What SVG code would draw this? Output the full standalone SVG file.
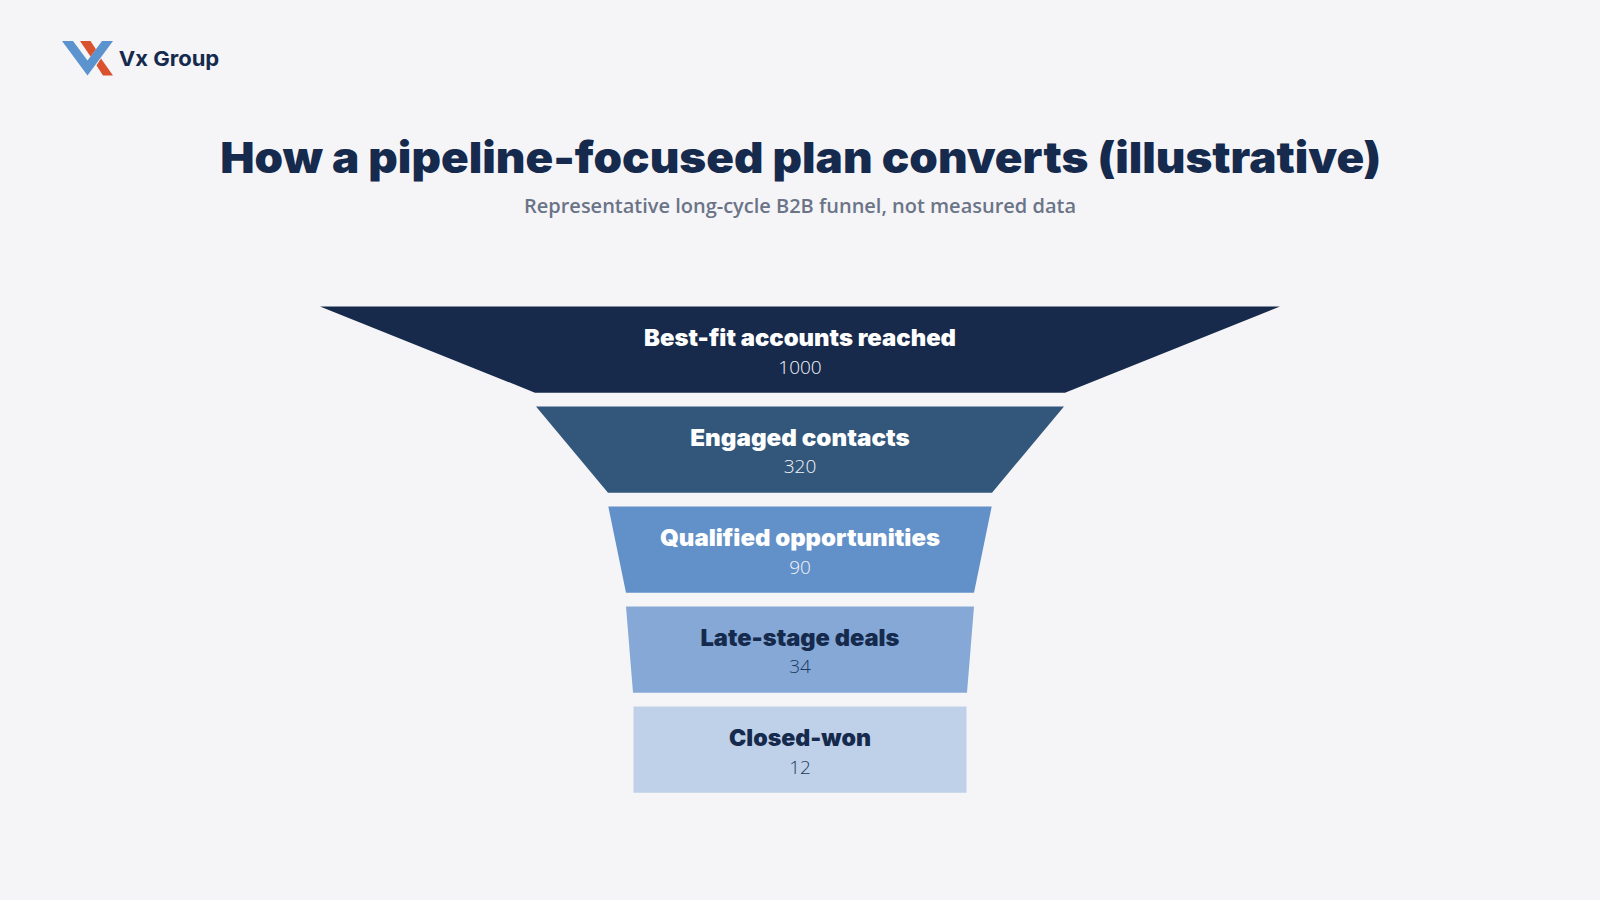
<svg xmlns="http://www.w3.org/2000/svg" width="1600" height="900" viewBox="0 0 1600 900">
<style>
.t{font-family:"Inter","Liberation Sans",sans-serif;font-weight:900;text-anchor:middle}
.l{font-size:23px}
.v{font-family:"Open Sans","Liberation Sans",sans-serif;font-size:19px;font-weight:300;text-anchor:middle}
.w{fill:#fff}.d{fill:#152a4c}
</style>
<rect width="1600" height="900" fill="#f5f5f8"/>
<g id="logo">
<polygon points="62,41 73,41 87.5,60.6 102,41 113,41 87.5,75.5" fill="#5b93cf"/>
<polygon points="80,41 90.5,41 95.9,49.2 90.5,56.5" fill="#d9512f"/>
<polygon points="101,58.5 113,75.5 103,75.5 96.5,65.5" fill="#d9512f"/>
<text x="169" y="65.5" class="t d" font-size="20.5" style="font-weight:700" textLength="100.5" lengthAdjust="spacingAndGlyphs">Vx Group</text>
</g>
<g id="header">
<text x="800.8" y="173.3" class="t d" font-size="43" textLength="1161" lengthAdjust="spacingAndGlyphs">How a pipeline-focused plan converts (illustrative)</text>
<text x="800" y="213" font-family="Open Sans,Liberation Sans,sans-serif" font-weight="600" font-size="20" text-anchor="middle" fill="#6b7487" textLength="552" lengthAdjust="spacingAndGlyphs">Representative long-cycle B2B funnel, not measured data</text>
</g>
<g id="stage1"><polygon points="320,306.5 1280,306.5 1065,392.7 535,392.7" fill="#172a4c"/>
<text x="800" y="346" class="t l w" textLength="312" lengthAdjust="spacingAndGlyphs">Best-fit accounts reached</text><text x="800" y="374" class="v" fill="#f2f5fa">1000</text></g>
<g id="stage2"><polygon points="536,406.5 1064,406.5 992,492.7 608,492.7" fill="#33567b"/>
<text x="800" y="446" class="t l w" textLength="219.5" lengthAdjust="spacingAndGlyphs">Engaged contacts</text><text x="800" y="473.2" class="v" fill="#f2f5fa">320</text></g>
<g id="stage3"><polygon points="608.3,506.5 991.7,506.5 974,592.7 626,592.7" fill="#6290c8"/>
<text x="800" y="545.7" class="t l w" textLength="280" lengthAdjust="spacingAndGlyphs">Qualified opportunities</text><text x="800" y="573.5" class="v" fill="#f2f5fa">90</text></g>
<g id="stage4"><polygon points="626,606.5 974,606.5 967,692.7 633,692.7" fill="#85a8d6"/>
<text x="800" y="645.7" class="t l d" textLength="199" lengthAdjust="spacingAndGlyphs">Late-stage deals</text><text x="800" y="673" class="v" fill="#1b3a60">34</text></g>
<g id="stage5"><polygon points="633.5,706.5 966.5,706.5 966.5,792.7 633.5,792.7" fill="#bfd1e8"/>
<text x="800" y="745.7" class="t l d" textLength="142" lengthAdjust="spacingAndGlyphs">Closed-won</text><text x="800" y="773.7" class="v" fill="#1b3a60">12</text></g>
</svg>
